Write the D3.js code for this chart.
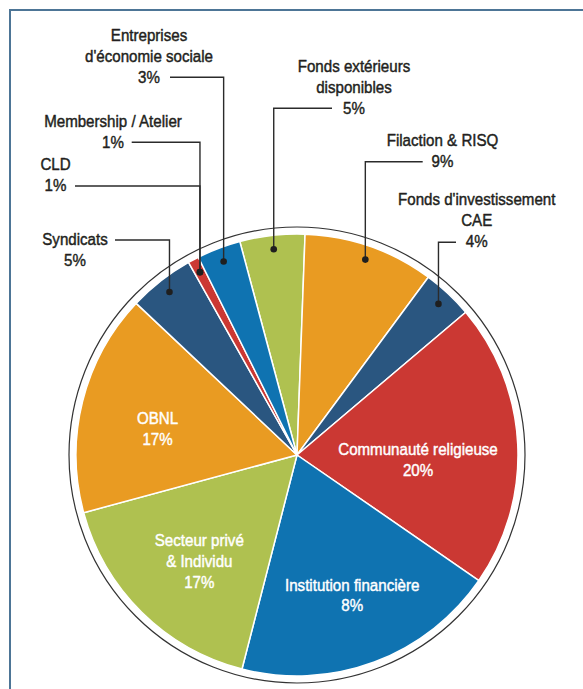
<!DOCTYPE html>
<html>
<head>
<meta charset="utf-8">
<script src="https://cdn.jsdelivr.net/npm/d3@7/dist/d3.min.js"></script>
<style>
  html, body { margin: 0; padding: 0; background: #fff; }
  svg { display: block; }
  text { font-family: "Liberation Sans", Arial, sans-serif; font-size: 16.8px; }
</style>
</head>
<body>
<svg id="chart" width="583" height="689"></svg>
<script>
// ---- data ----
const categories = [
  "Fonds extérieurs disponibles",
  "Filaction & RISQ",
  "Fonds d'investissement CAE",
  "Communauté religieuse",
  "Institution financière",
  "Secteur privé & Individu",
  "OBNL",
  "Syndicats",
  "CLD / Membership / Atelier",
  "Entreprises d'économie sociale"
];
// slice sizes as drawn (share of the circle, %)
const sliceShares = [4.75, 9.55, 3.7, 20.8, 19.4, 16.8, 16.25, 4.8, 0.8, 3.2];
// percentages printed on the chart
const printedPercents = ["5%", "9%", "4%", "20%", "8%", "17%", "17%", "5%", "1%", "3%"];
const sliceColors = ["#AFC150", "#E99B22", "#2A5680", "#CB3833", "#0F73B1", "#AFC150", "#E99B22", "#2A5680", "#CB3833", "#0F73B1"];

// inside labels: slice index, lines of text
const insideLabels = [
  { slice: 3, lines: ["Communauté religieuse", "20%"] },
  { slice: 4, lines: ["Institution financière", "8%"] },
  { slice: 5, lines: ["Secteur privé", "& Individu", "17%"] },
  { slice: 6, lines: ["OBNL", "17%"] }
];
// outside (callout) labels: slice index, lines of text
const calloutLabels = [
  { slice: 0, lines: ["Fonds extérieurs", "disponibles", "5%"] },
  { slice: 1, lines: ["Filaction & RISQ", "9%"] },
  { slice: 2, lines: ["Fonds d'investissement", "CAE", "4%"] },
  { slice: 7, lines: ["Syndicats", "5%"] },
  { slice: 8, lines: ["CLD", "1%"] },
  { slice: 8, lines: ["Membership / Atelier", "1%"] },
  { slice: 9, lines: ["Entreprises", "d'économie sociale", "3%"] }
];

// ---- layout ----
const W = 583, H = 689;
const cx = 297, cy = 455, R = 221, outlineR = 228, dotR = 207;
const lineH = 20.8;
const squeeze = 0.9; // condensed lettering
// text position (center x, first baseline) and the horizontal leader (y, x of text-side end)
const calloutLayout = [
  { x: 354, y: 72.5, ly: 108.3, lx: 332 },
  { x: 442.5, y: 146.5, ly: 161.7, lx: 422.7 },
  { x: 476.7, y: 205.5, ly: 242.3, lx: 456 },
  { x: 75, y: 245, ly: 240, lx: 115 },
  { x: 55.5, y: 170.5, ly: 186, lx: 75 },
  { x: 113, y: 127.5, ly: 142.3, lx: 131.7 },
  { x: 149, y: 41, ly: 77.3, lx: 170 }
];
const insideLayout = [
  { x: 418, y: 455 },
  { x: 352.2, y: 590.7 },
  { x: 199.3, y: 546 },
  { x: 157.5, y: 424 }
];

const svg = d3.select("#chart");

// frame
svg.append("rect")
  .attr("x", 10).attr("y", 10).attr("width", 640).attr("height", 760)
  .attr("fill", "none").attr("stroke", "#4d7596").attr("stroke-width", 2);

const g = svg.append("g").attr("transform", `translate(${cx},${cy})`);

// outline circle
g.append("circle").attr("r", outlineR)
  .attr("fill", "none").attr("stroke", "#333").attr("stroke-width", 1.2);

const startA = -15 * Math.PI / 180;
const pie = d3.pie().sort(null).value(d => d).startAngle(startA).endAngle(startA + 2 * Math.PI);
const arcs = pie(sliceShares);
const arc = d3.arc().innerRadius(0).outerRadius(R);
const dotArc = d3.arc().innerRadius(dotR).outerRadius(dotR);

g.selectAll("path.slice").data(arcs).enter().append("path")
  .attr("class", "slice")
  .attr("d", arc)
  .attr("fill", (d, i) => sliceColors[i])
  .attr("stroke", "#fff").attr("stroke-width", 1.5).attr("stroke-linejoin", "round");

function addText(L, lines, fill) {
  const t = svg.append("text")
    .attr("transform", `translate(${L.x},0) scale(${squeeze},1)`)
    .attr("text-anchor", "middle").attr("fill", fill)
    .attr("stroke", fill).attr("stroke-width", 0.45).attr("stroke-linejoin", "round");
  lines.forEach((s, j) => {
    t.append("tspan").attr("x", 0).attr("y", L.y + j * lineH).text(s);
  });
}

// callouts
calloutLabels.forEach((c, k) => {
  const L = calloutLayout[k];
  const [dx, dy] = dotArc.centroid(arcs[c.slice]);
  const px = cx + dx, py = cy + dy;
  svg.append("path")
    .attr("d", `M${L.lx},${L.ly}H${px}V${py}`)
    .attr("fill", "none").attr("stroke", "#2b2b2b").attr("stroke-width", 1.4);
  svg.append("circle").attr("cx", px).attr("cy", py).attr("r", 3.3).attr("fill", "#1f1f1f");
  addText(L, c.lines, "#231f20");
});

// inside labels
insideLabels.forEach((c, k) => addText(insideLayout[k], c.lines, "#fff"));
</script>
</body>
</html>
